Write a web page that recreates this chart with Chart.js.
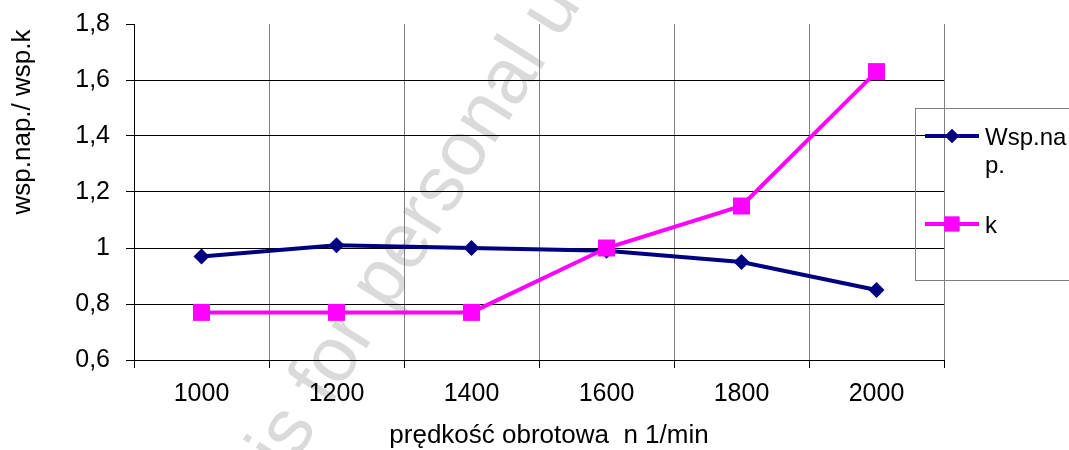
<!DOCTYPE html>
<html>
<head>
<meta charset="utf-8">
<script src="https://cdn.jsdelivr.net/npm/chart.js@4/dist/chart.umd.min.js"></script>
<style>
  html, body { margin: 0; padding: 0; background: #fff; }
  #wrap { width: 1069px; height: 450px; }
</style>
</head>
<body>
<div id="wrap"><canvas id="c" width="1069" height="450"></canvas></div>
<script>
// ---- data ----
const categories = ['1000', '1200', '1400', '1600', '1800', '2000'];
const wspNap = [0.97, 1.01, 1.00, 0.99, 0.95, 0.85];
const kValues = [0.77, 0.77, 0.77, 1.00, 1.15, 1.63];
const seriesNames = ['Wsp.nap.', 'k'];
const yMin = 0.6, yMax = 1.8, yStep = 0.2;
const xTitle = 'prędkość obrotowa  n 1/min';
const yTitle = 'wsp.nap./ wsp.k';
const watermark = 'is for personal use';

const FONT = "'Liberation Sans', Arial, sans-serif";
const NAVY = '#000080';
const MAGENTA = '#FF00FF';

function fmt(v) {
  return (Math.round(v * 10) / 10).toString().replace('.', ',');
}

const decor = {
  id: 'decor',
  beforeDraw(chart) {
    const ctx = chart.ctx;
    ctx.save();
    ctx.fillStyle = '#fff';
    ctx.fillRect(0, 0, chart.width, chart.height);
    // faint watermark
    ctx.translate(288, 474);
    ctx.rotate(-58 * Math.PI / 180);
    ctx.font = '78px ' + FONT;
    ctx.fillStyle = '#dadada';
    ctx.textBaseline = 'alphabetic';
    ctx.textAlign = 'left';
    ctx.fillText(watermark, 0, 0);
    ctx.restore();
  },
  afterDraw(chart) {
    const ctx = chart.ctx;
    ctx.save();
    ctx.fillStyle = '#000';
    // axis titles
    ctx.font = '26px ' + FONT;
    ctx.textAlign = 'center';
    ctx.textBaseline = 'alphabetic';
    ctx.fillText(xTitle, 549, 443);
    ctx.save();
    ctx.translate(23, 122);
    ctx.rotate(-Math.PI / 2);
    ctx.textBaseline = 'middle';
    ctx.fillText(yTitle, 0, 0);
    ctx.restore();

    // legend box
    ctx.strokeStyle = '#808080';
    ctx.lineWidth = 1;
    ctx.strokeRect(915.5, 108.5, 200, 172);

    const items = [
      { ds: chart.data.datasets[1], y: 136 },
      { ds: chart.data.datasets[0], y: 224 }
    ];
    ctx.font = '24px ' + FONT;
    ctx.textAlign = 'left';
    ctx.textBaseline = 'alphabetic';
    const textX = 985;
    const maxW = chart.width - textX - 2;
    items.forEach(it => {
      const ds = it.ds;
      ctx.strokeStyle = ds.borderColor;
      ctx.lineWidth = 4;
      ctx.beginPath();
      ctx.moveTo(925, it.y);
      ctx.lineTo(979, it.y);
      ctx.stroke();
      ctx.fillStyle = ds.backgroundColor;
      Chart.helpers.drawPoint(ctx, {
        pointStyle: ds.pointStyle,
        radius: ds.legendRadius,
        borderWidth: 0,
        rotation: 0
      }, 952, it.y);
      ctx.fill();
      // wrap label
      const lines = [];
      let cur = '';
      for (const ch of ds.label) {
        if (cur && ctx.measureText(cur + ch).width > maxW) {
          lines.push(cur);
          cur = ch;
        } else {
          cur += ch;
        }
      }
      if (cur) lines.push(cur);
      ctx.fillStyle = '#000';
      lines.forEach((ln, i) => ctx.fillText(ln, textX, it.y + 9 + i * 28));
    });
    ctx.restore();
  }
};

new Chart(document.getElementById('c'), {
  type: 'line',
  data: {
    labels: categories,
    datasets: [
      {
        label: seriesNames[1],
        data: kValues,
        borderColor: MAGENTA,
        backgroundColor: MAGENTA,
        borderWidth: 4,
        pointStyle: 'rect',
        pointRadius: 12,
        pointHoverRadius: 12,
        pointBorderWidth: 0,
        legendRadius: 10.5,
        tension: 0,
        order: 0
      },
      {
        label: seriesNames[0],
        data: wspNap,
        borderColor: NAVY,
        backgroundColor: NAVY,
        borderWidth: 4,
        pointStyle: 'rectRot',
        pointRadius: 8,
        pointHoverRadius: 8,
        pointBorderWidth: 0,
        legendRadius: 7,
        tension: 0,
        order: 1
      }
    ]
  },
  options: {
    responsive: false,
    animation: false,
    events: [],
    layout: { padding: { top: 24, right: 125, left: 0, bottom: 0 } },
    plugins: {
      legend: { display: false },
      tooltip: { enabled: false }
    },
    scales: {
      x: {
        offset: true,
        grid: {
          offset: true,
          lineWidth: 1,
          tickLength: 8,
          tickColor: '#000',
          color: c => c.index === 0 ? '#000' : (c.index >= categories.length ? 'rgba(0,0,0,0)' : '#808080')
        },
        border: { display: true, color: '#000', width: 1 },
        ticks: {
          color: '#000',
          font: { family: FONT, size: 25 },
          padding: 11,
          maxRotation: 0,
          autoSkip: false
        },
        afterFit: s => { s.height = 90; s.paddingLeft = 0; s.paddingRight = 0; }
      },
      y: {
        min: yMin,
        max: yMax,
        grid: {
          lineWidth: 1,
          tickLength: 8,
          tickColor: '#000',
          color: c => (c.tick && Math.abs(c.tick.value - yMax) < 1e-6) ? 'rgba(0,0,0,0)' : '#000'
        },
        border: { display: true, color: '#000', width: 1 },
        ticks: {
          stepSize: yStep,
          color: '#000',
          font: { family: FONT, size: 25 },
          padding: 16,
          callback: v => fmt(v)
        },
        afterFit: s => { s.width = 134; s.paddingTop = 0; s.paddingBottom = 0; }
      }
    }
  },
  plugins: [decor]
});
</script>
</body>
</html>
